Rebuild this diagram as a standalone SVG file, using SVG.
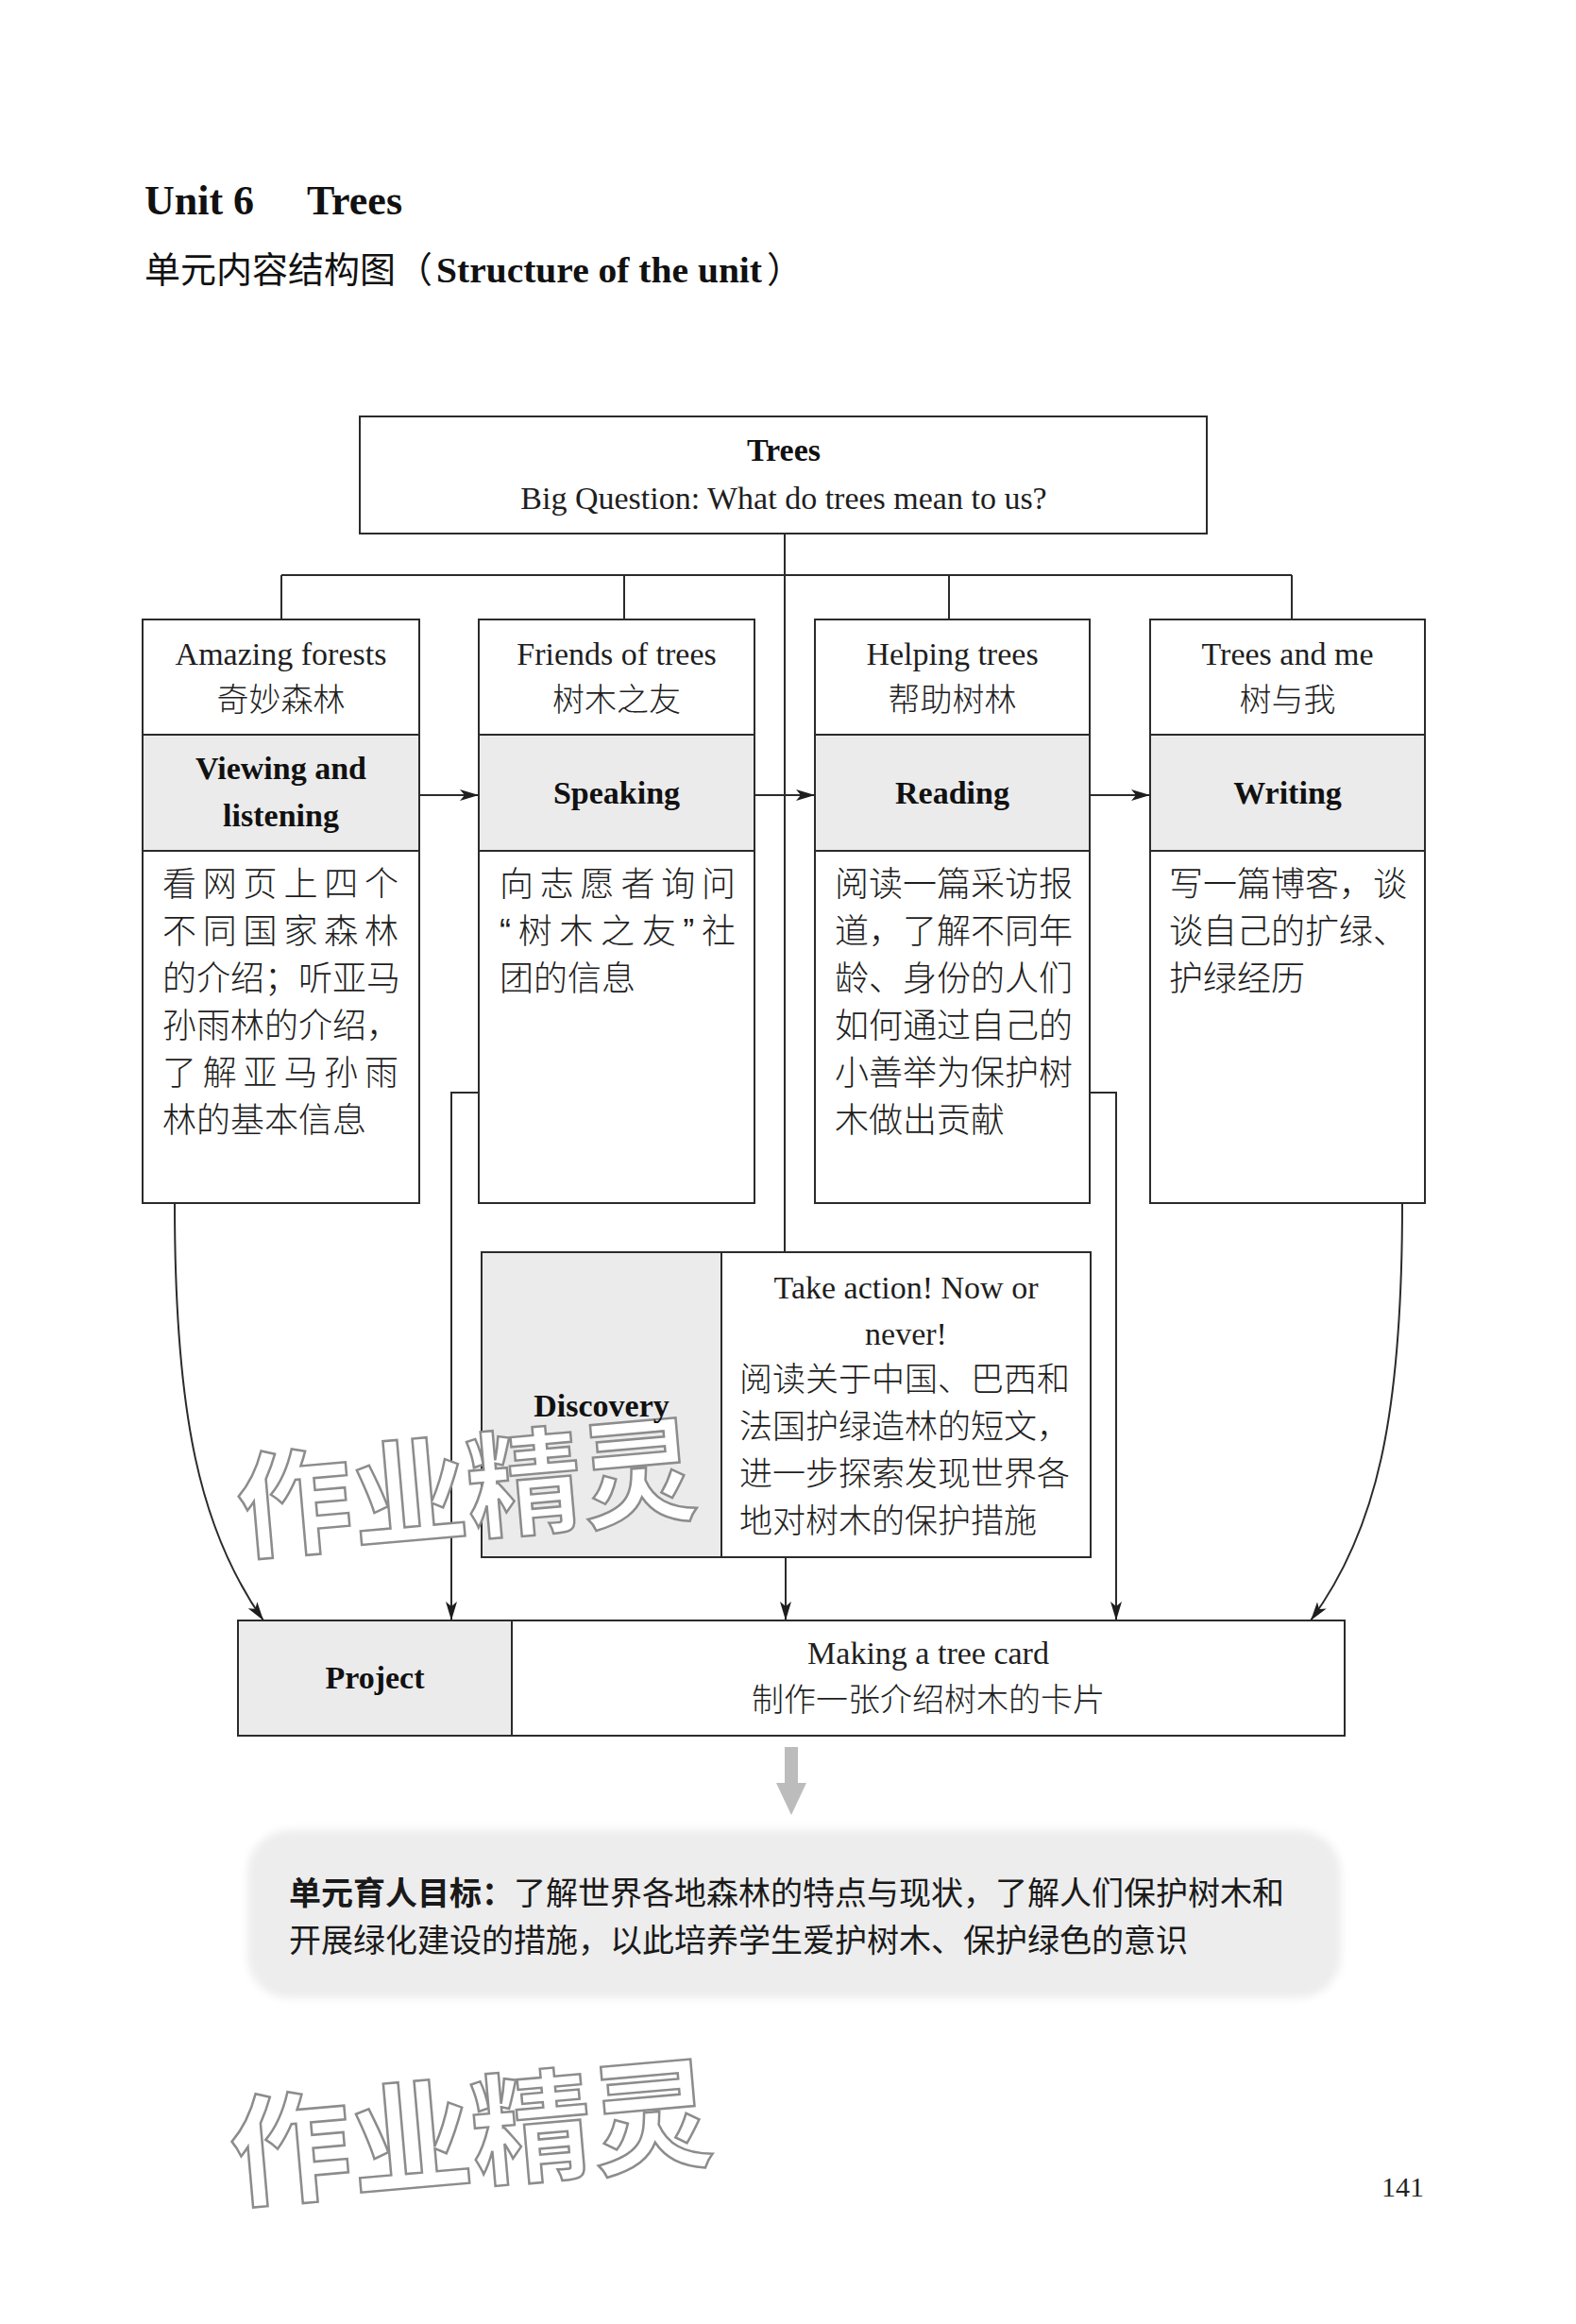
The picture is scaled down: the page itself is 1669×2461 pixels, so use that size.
<svg xmlns="http://www.w3.org/2000/svg" width="1669" height="2461" viewBox="0 0 1669 2461">
<defs>
<style>
.box{fill:#fff;stroke:#2b2b2b;stroke-width:2}
.gray{fill:#ebebeb;stroke:#2b2b2b;stroke-width:2}
.ln{fill:none;stroke:#2b2b2b;stroke-width:2}
.en{font-family:'Liberation Serif','Noto Sans CJK SC',serif;font-size:34px;fill:#1e1e1e}
.enb{font-family:'Liberation Serif','Noto Sans CJK SC',serif;font-size:34px;font-weight:bold;fill:#111}
.cn{font-family:'Liberation Sans','Noto Sans CJK SC',sans-serif;font-size:36px;font-weight:300;fill:#1e1e1e}
.cnh{font-family:'Liberation Sans','Noto Sans CJK SC',sans-serif;font-size:34px;font-weight:300;fill:#1e1e1e}
.mid{text-anchor:middle}
.wm{font-family:'Liberation Sans','Noto Sans CJK SC',sans-serif;font-weight:bold;fill:#fff;stroke:#8c8c8c;stroke-width:2.5}
</style>
<marker id="ah" viewBox="0 0 20 12" refX="20" refY="6" markerWidth="20" markerHeight="12" markerUnits="userSpaceOnUse" orient="auto">
<path d="M0,0 L20,6 L0,12 L5,6 z" fill="#1e1e1e"/>
</marker>
<filter id="soft" x="-5%" y="-10%" width="110%" height="120%"><feGaussianBlur stdDeviation="4"/></filter>
</defs>
<rect x="0" y="0" width="1669" height="2461" fill="#fff"/>

<g id="title">
<text x="153" y="227" style="font-family:'Liberation Serif',serif;font-size:44px;font-weight:bold;fill:#111">Unit 6<tspan x="325">Trees</tspan></text>
<text x="153" y="299" style="font-family:'Liberation Sans','Noto Sans CJK SC',sans-serif;font-size:38px;fill:#111">单元内容结构图<tspan x="420">（</tspan><tspan x="462" style="font-family:'Liberation Serif',serif;font-weight:bold" textLength="345" lengthAdjust="spacingAndGlyphs">Structure of the unit</tspan><tspan x="812">）</tspan></text>
</g>

<g id="connectors">
<path class="ln" d="M831,565 V1326"/>
<path class="ln" d="M298,609 H1368"/>
<path class="ln" d="M298,609 V656 M661,609 V656 M1005,609 V656 M1368,609 V656"/>
<path class="ln" d="M444,842 H507" marker-end="url(#ah)"/>
<path class="ln" d="M799,842 H863" marker-end="url(#ah)"/>
<path class="ln" d="M1154,842 H1218" marker-end="url(#ah)"/>
<path class="ln" d="M185,1274 C185,1500 212,1621 279,1716" marker-end="url(#ah)"/>
<path class="ln" d="M507,1157 H478 V1716" marker-end="url(#ah)"/>
<path class="ln" d="M832,1649 V1716" marker-end="url(#ah)"/>
<path class="ln" d="M1154,1157 H1182 V1716" marker-end="url(#ah)"/>
<path class="ln" d="M1485,1274 C1485,1500 1458,1621 1388,1716" marker-end="url(#ah)"/>
</g>

<g id="node-top">
<rect class="box" x="381" y="441" width="897" height="124"/>
<text class="enb mid" x="830" y="488">Trees</text>
<text class="en mid" x="830" y="539">Big Question: What do trees mean to us?</text>
</g>

<g id="node-forests">
<rect class="box" x="151" y="656" width="293" height="618"/>
<rect class="gray" x="151" y="778" width="293" height="123"/>
<text class="en mid" x="297.5" y="704">Amazing forests</text>
<text class="cnh mid" x="297.5" y="753">奇妙森林</text>
<text class="enb mid" x="297.5" y="825">Viewing and</text>
<text class="enb mid" x="297.5" y="875">listening</text>
<text class="cn" x="172" y="949" textLength="250" lengthAdjust="spacing">看网页上四个</text>
<text class="cn" x="172" y="999" textLength="250" lengthAdjust="spacing">不同国家森林</text>
<text class="cn" x="172" y="1049">的介绍；听亚马</text>
<text class="cn" x="172" y="1099">孙雨林的介绍，</text>
<text class="cn" x="172" y="1149" textLength="250" lengthAdjust="spacing">了解亚马孙雨</text>
<text class="cn" x="172" y="1199">林的基本信息</text>
</g>

<g id="node-friends">
<rect class="box" x="507" y="656" width="292" height="618"/>
<rect class="gray" x="507" y="778" width="292" height="123"/>
<text class="en mid" x="653" y="704">Friends of trees</text>
<text class="cnh mid" x="653" y="753">树木之友</text>
<text class="enb mid" x="653" y="851">Speaking</text>
<text class="cn" x="529" y="949" textLength="250" lengthAdjust="spacing">向志愿者询问</text>
<text class="cn" x="529" y="999" textLength="250" lengthAdjust="spacing">“树木之友”社</text>
<text class="cn" x="529" y="1049">团的信息</text>
</g>

<g id="node-helping">
<rect class="box" x="863" y="656" width="291" height="618"/>
<rect class="gray" x="863" y="778" width="291" height="123"/>
<text class="en mid" x="1008.5" y="704">Helping trees</text>
<text class="cnh mid" x="1008.5" y="753">帮助树林</text>
<text class="enb mid" x="1008.5" y="851">Reading</text>
<text class="cn" x="884" y="949">阅读一篇采访报</text>
<text class="cn" x="884" y="999">道，了解不同年</text>
<text class="cn" x="884" y="1049">龄、身份的人们</text>
<text class="cn" x="884" y="1099">如何通过自己的</text>
<text class="cn" x="884" y="1149">小善举为保护树</text>
<text class="cn" x="884" y="1199">木做出贡献</text>
</g>

<g id="node-me">
<rect class="box" x="1218" y="656" width="291" height="618"/>
<rect class="gray" x="1218" y="778" width="291" height="123"/>
<text class="en mid" x="1363.5" y="704">Trees and me</text>
<text class="cnh mid" x="1363.5" y="753">树与我</text>
<text class="enb mid" x="1363.5" y="851">Writing</text>
<text class="cn" x="1238" y="949">写一篇博客，谈</text>
<text class="cn" x="1238" y="999">谈自己的扩绿、</text>
<text class="cn" x="1238" y="1049">护绿经历</text>
</g>

<g id="node-discovery">
<rect class="box" x="510" y="1326" width="645" height="323"/>
<rect class="gray" x="510" y="1326" width="254" height="323"/>
<text class="en mid" x="959.5" y="1375">Take action! Now or</text>
<text class="en mid" x="959.5" y="1424">never!</text>
<text class="cn" x="783" y="1473" style="font-size:35px">阅读关于中国、巴西和</text>
<text class="cn" x="783" y="1523" style="font-size:35px">法国护绿造林的短文，</text>
<text class="cn" x="783" y="1573" style="font-size:35px">进一步探索发现世界各</text>
<text class="cn" x="783" y="1623" style="font-size:35px">地对树木的保护措施</text>
</g>

<g id="node-project">
<rect class="box" x="252" y="1716" width="1172" height="122"/>
<rect class="gray" x="252" y="1716" width="290" height="122"/>
<text class="enb mid" x="397" y="1788">Project</text>
<text class="en mid" x="983" y="1762">Making a tree card</text>
<text class="cnh mid" x="983" y="1812">制作一张介绍树木的卡片</text>
</g>

<g id="big-arrow">
<rect x="831" y="1850" width="14" height="40" fill="#bcbcbc"/>
<polygon points="822,1888 854,1888 838,1922" fill="#bcbcbc"/>
</g>

<g id="node-goal">
<rect x="262" y="1938" width="1158" height="178" rx="45" fill="#ededed" filter="url(#soft)"/>
<text x="306" y="2017" style="font-family:'Liberation Sans','Noto Sans CJK SC',sans-serif;font-size:34px;fill:#1a1a1a"><tspan font-weight="bold">单元育人目标：</tspan>了解世界各地森林的特点与现状，了解人们保护树木和</text>
<text x="306" y="2067" style="font-family:'Liberation Sans','Noto Sans CJK SC',sans-serif;font-size:34px;fill:#1a1a1a">开展绿化建设的措施，以此培养学生爱护树木、保护绿色的意识</text>
</g>

<g id="watermarks">
<text class="wm" x="255" y="1642" font-size="122" transform="rotate(-5 255 1642)">作业精灵</text>
<text class="wm" x="248" y="2328" font-size="128" transform="rotate(-5 248 2328)">作业精灵</text>
</g>

<g id="discovery-label">
<text class="enb mid" x="637" y="1500">Discovery</text>
</g>

<g id="page-number">
<text x="1463" y="2326" style="font-family:'Liberation Serif',serif;font-size:30px;fill:#222">141</text>
</g>
</svg>
